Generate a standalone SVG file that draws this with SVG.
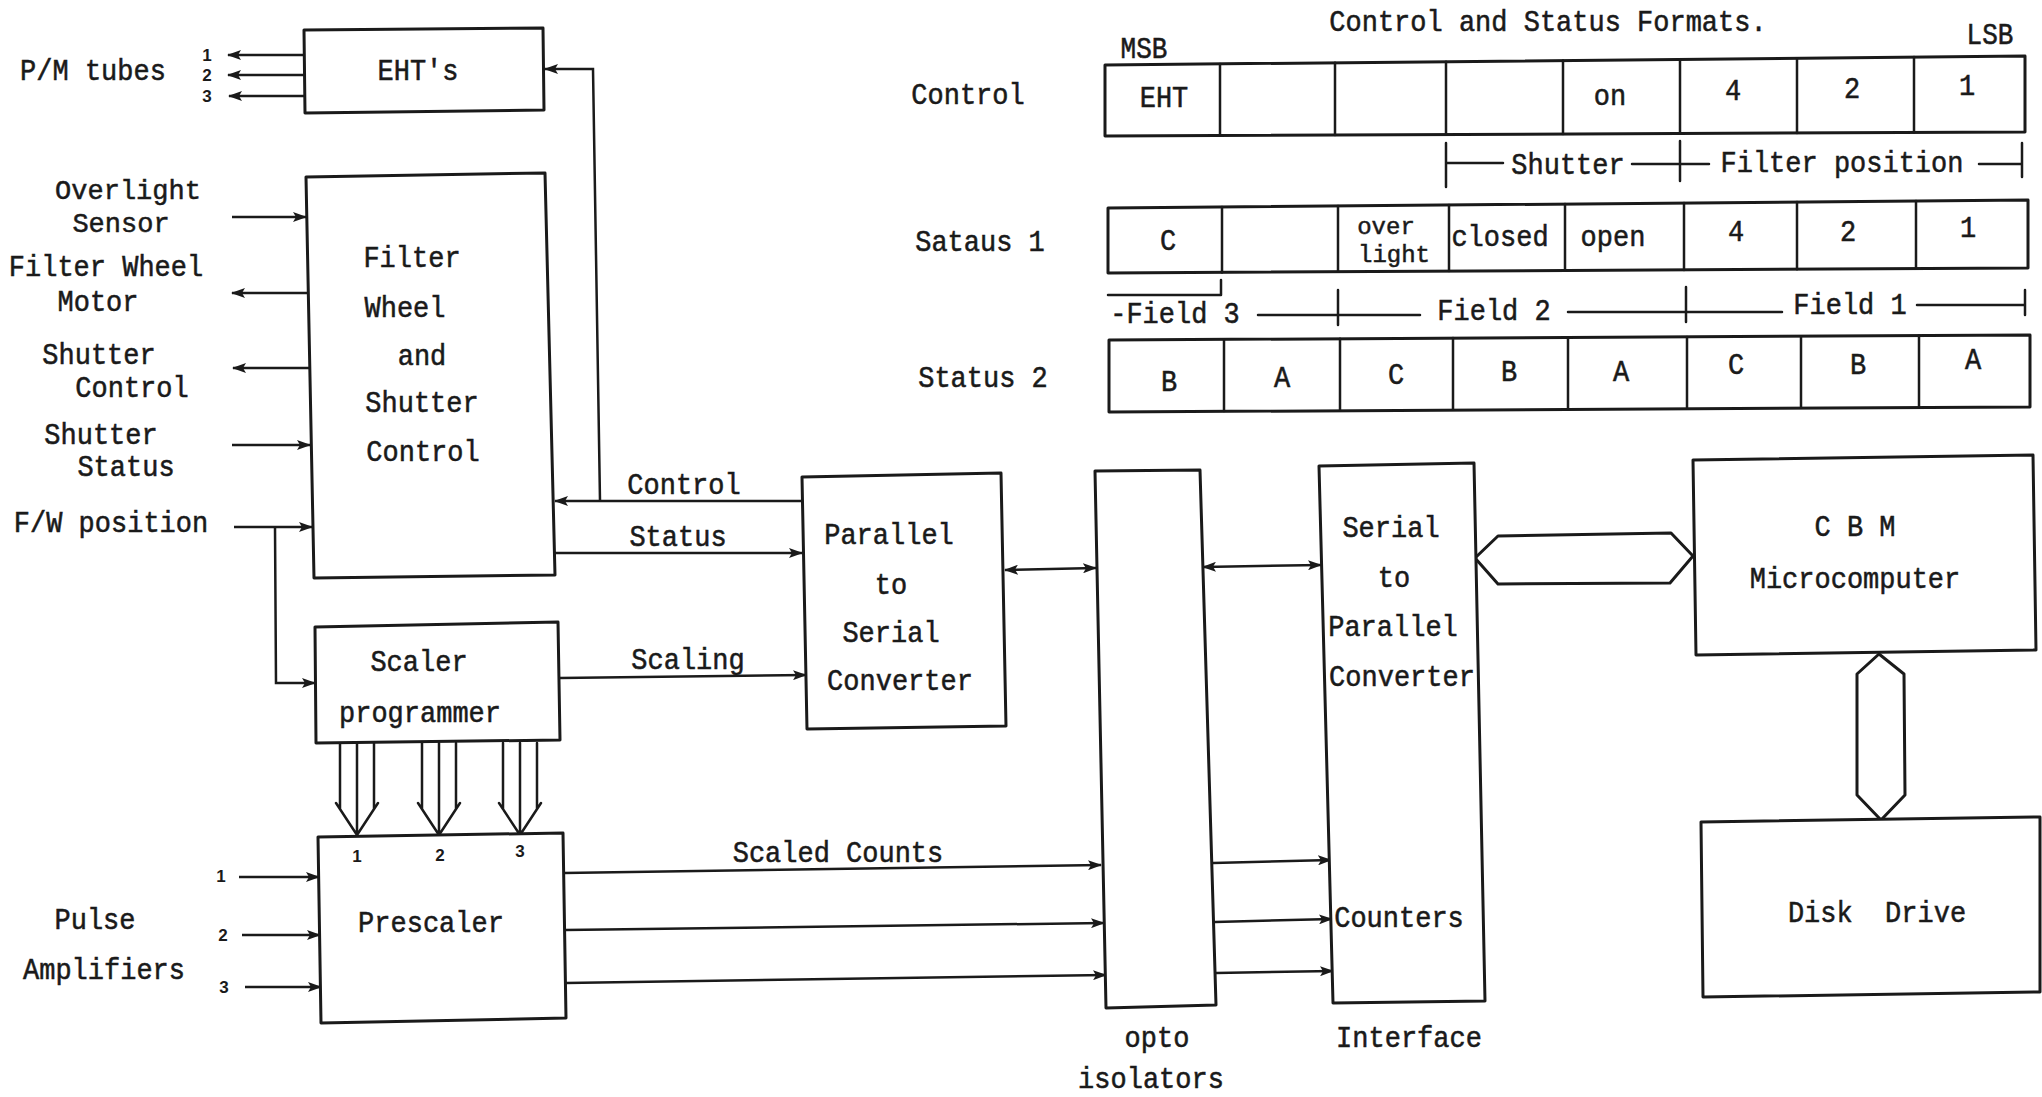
<svg xmlns="http://www.w3.org/2000/svg" width="2042" height="1097" viewBox="0 0 2042 1097">
<style>
.box{fill:#fff;stroke:#1a1a1a;stroke-width:3;stroke-linejoin:round}
.ln{fill:none;stroke:#1a1a1a;stroke-width:2.5;stroke-linecap:round;stroke-linejoin:round}
.arr{fill:none;stroke:#1a1a1a;stroke-width:2.5;marker-end:url(#ah)}
.bi{fill:none;stroke:#1a1a1a;stroke-width:2.5;marker-end:url(#ah);marker-start:url(#ah)}
.t{font-family:"Liberation Mono","Courier New",monospace;font-size:27px;fill:#1a1a1a;stroke:#1a1a1a;stroke-width:0.5;text-anchor:middle;white-space:pre;transform-box:fill-box;transform-origin:50% 50%;transform:scaleY(1.12)}
.ns{transform:none}
.sm{font-size:24px}
.s{font-family:"Liberation Sans",Arial,sans-serif;font-size:17px;font-weight:bold;fill:#1a1a1a;text-anchor:middle}
.m{font-size:26px}
</style>
<defs>
<marker id="ah" viewBox="0 0 14 10" refX="13" refY="5" markerWidth="14" markerHeight="10" markerUnits="userSpaceOnUse" orient="auto-start-reverse">
<path d="M0,0 L14,5 L0,10 L3,5 z" fill="#1a1a1a"/>
</marker>
</defs>
<rect width="2042" height="1097" fill="#fff"/>

<g id="connectors">
<!-- EHT outputs -->
<line class="arr" x1="304" y1="55" x2="228" y2="55"/>
<line class="arr" x1="304" y1="75" x2="228" y2="75"/>
<line class="arr" x1="305" y1="96" x2="229" y2="96"/>
<!-- Control to FW and EHT -->
<line class="arr" x1="802" y1="501" x2="555" y2="501"/>
<polyline class="arr" points="600,501 593,69 545,69"/>
<!-- Status / Scaling -->
<line class="arr" x1="555" y1="553" x2="802" y2="553"/>
<line class="arr" x1="560" y1="678" x2="806" y2="675"/>
<!-- left side signals -->
<line class="arr" x1="232" y1="217" x2="306" y2="217"/>
<line class="arr" x1="307" y1="293" x2="232" y2="293"/>
<line class="arr" x1="309" y1="368" x2="233" y2="368"/>
<line class="arr" x1="232" y1="445" x2="310" y2="445"/>
<line class="arr" x1="234" y1="527" x2="312" y2="527"/>
<polyline class="arr" points="275,527 276,683 315,683"/>
<!-- Prescaler inputs -->
<line class="arr" x1="239" y1="877" x2="319" y2="877"/>
<line class="arr" x1="242" y1="935" x2="320" y2="935"/>
<line class="arr" x1="245" y1="987" x2="321" y2="987"/>
<!-- Prescaler outputs -->
<line class="arr" x1="564" y1="873" x2="1101" y2="865"/>
<line class="arr" x1="565" y1="930" x2="1104" y2="923"/>
<line class="arr" x1="566" y1="983" x2="1106" y2="975"/>
<!-- opto to counters -->
<line class="arr" x1="1213" y1="863" x2="1331" y2="860"/>
<line class="arr" x1="1215" y1="922" x2="1332" y2="919"/>
<line class="arr" x1="1216" y1="973" x2="1333" y2="971"/>
<!-- bidirectional -->
<line class="bi" x1="1005" y1="570" x2="1096" y2="568"/>
<line class="bi" x1="1203" y1="567" x2="1321" y2="565"/>
<!-- scaler to prescaler buses -->
<path class="ln" d="M340,743 V809 M357,743 V835 M374,743 V809 M336,803 L357,835 L378,803"/>
<path class="ln" d="M422,743 V809 M439,743 V835 M456,743 V809 M418,803 L439,835 L460,803"/>
<path class="ln" d="M503,743 V809 M520,743 V835 M537,743 V809 M499,803 L520,835 L541,803"/>
<!-- wide buses -->
<polygon class="box" points="1475,558 1498,536 1671,533 1693,556 1670,583 1498,584"/>
<polygon class="box" points="1879,654 1904,674 1905,795 1881,820 1857,795 1857,674"/>
</g>

<g id="eht">
<polygon class="box" points="304,30 543,28 544,110 305,113"/>
<text class="t" x="418" y="79">EHT's</text>
</g>
<g id="pm-tubes">
<text class="t" x="93" y="79">P/M tubes</text>
<text class="s" x="207" y="61">1</text>
<text class="s" x="207" y="81">2</text>
<text class="s" x="207" y="102">3</text>
</g>
<g id="fw-control">
<polygon class="box" points="306,177 545,173 555,575 314,578"/>
<text class="t" x="412" y="266">Filter</text>
<text class="t" x="405" y="316">Wheel</text>
<text class="t" x="422" y="364">and</text>
<text class="t" x="422" y="411">Shutter</text>
<text class="t" x="423" y="460">Control</text>
</g>
<g id="left-labels">
<text class="t ns" x="128" y="199">Overlight</text>
<text class="t ns" x="121" y="232">Sensor</text>
<text class="t" x="106" y="275">Filter Wheel</text>
<text class="t" x="98" y="310">Motor</text>
<text class="t" x="99" y="363">Shutter</text>
<text class="t" x="132" y="396">Control</text>
<text class="t" x="101" y="443">Shutter</text>
<text class="t" x="126" y="475">Status</text>
<text class="t" x="111" y="531">F/W position</text>
</g>
<g id="line-labels">
<text class="t" x="684" y="493">Control</text>
<text class="t" x="678" y="545">Status</text>
<text class="t" x="688" y="668">Scaling</text>
<text class="t" x="838" y="861">Scaled Counts</text>
</g>
<g id="scaler">
<polygon class="box" points="315,627 558,622 560,740 316,743"/>
<text class="t" x="419" y="670">Scaler</text>
<text class="t" x="420" y="721">programmer</text>
</g>
<g id="prescaler">
<polygon class="box" points="318,837 563,833 566,1018 321,1023"/>
<text class="t" x="431" y="931">Prescaler</text>
<text class="s" x="357" y="862">1</text>
<text class="s" x="440" y="861">2</text>
<text class="s" x="520" y="857">3</text>
</g>
<g id="pulse-amps">
<text class="t" x="95" y="928">Pulse</text>
<text class="t" x="104" y="978">Amplifiers</text>
<text class="s" x="221" y="882">1</text>
<text class="s" x="223" y="941">2</text>
<text class="s" x="224" y="993">3</text>
</g>
<g id="p2s">
<polygon class="box" points="802,477 1001,473 1006,726 807,729"/>
<text class="t" x="889" y="543">Parallel</text>
<text class="t" x="891" y="593">to</text>
<text class="t" x="891" y="641">Serial</text>
<text class="t" x="900" y="689">Converter</text>
</g>
<g id="opto">
<polygon class="box" points="1095,471 1200,470 1216,1005 1106,1008"/>
<text class="t" x="1157" y="1046">opto</text>
<text class="t" x="1151" y="1087">isolators</text>
</g>
<g id="s2p">
<polygon class="box" points="1319,466 1474,463 1485,1001 1333,1003"/>
<text class="t" x="1391" y="536">Serial</text>
<text class="t" x="1394" y="586">to</text>
<text class="t" x="1393" y="635">Parallel</text>
<text class="t" x="1402" y="685">Converter</text>
<text class="t" x="1399" y="926">Counters</text>
<text class="t" x="1409" y="1046">Interface</text>
</g>
<g id="cbm">
<polygon class="box" points="1693,460 2033,455 2036,650 1696,655"/>
<text class="t" x="1855" y="535">C B M</text>
<text class="t" x="1855" y="587">Microcomputer</text>
</g>
<g id="disk">
<polygon class="box" points="1701,822 2040,817 2040,992 1703,997"/>
<text class="t" x="1877" y="921">Disk  Drive</text>
</g>

<g id="formats">
<text class="t" x="1548" y="30">Control and Status Formats.</text>
<text class="t m" x="1144" y="57">MSB</text>
<text class="t m" x="1990" y="43">LSB</text>
<text class="t" x="968" y="103">Control</text>
<text class="t" x="980" y="250">Sataus 1</text>
<text class="t" x="983" y="386">Status 2</text>
<!-- control row -->
<polygon class="box" points="1105,65 2025,56 2025,132 1105,136"/>
<path class="ln" d="M1220,64 V135.5 M1335,62.7 V135 M1446,61.7 V134.5 M1563,60.5 V134 M1680,59.4 V133.5 M1797,58.2 V133 M1914,57.1 V132.5"/>
<text class="t" x="1164" y="106">EHT</text>
<text class="t" x="1610" y="104">on</text>
<text class="t" x="1733" y="99">4</text>
<text class="t" x="1852" y="97">2</text>
<text class="t" x="1967" y="94">1</text>
<!-- shutter / filter bracket -->
<path class="ln" d="M1446,143 V187 M1680,141 V181 M2022,143 V177 M1446,163 H1503 M1632,164 H1709 M1979,164 H2022"/>
<text class="t" x="1568" y="173">Shutter</text>
<text class="t" x="1842" y="171">Filter position</text>
<!-- status 1 row -->
<polygon class="box" points="1108,208 2028,200 2028,268 1108,273"/>
<path class="ln" d="M1222,207 V272.4 M1338,206 V271.8 M1449,205 V271.1 M1565,204 V270.5 M1684,203 V269.9 M1797,202 V269.3 M1916,201 V268.6"/>
<text class="t" x="1168" y="249">C</text>
<text class="t ns sm" x="1386" y="234">over</text>
<text class="t ns sm" x="1394" y="262">light</text>
<text class="t" x="1500" y="245">closed</text>
<text class="t" x="1613" y="245">open</text>
<text class="t" x="1736" y="240">4</text>
<text class="t" x="1848" y="240">2</text>
<text class="t" x="1968" y="236">1</text>
<!-- field bracket -->
<path class="ln" d="M1108,295 H1221 M1221,280 V295 M1258,315 H1420 M1338,290 V325 M1568,312 H1782 M1686,287 V322 M1917,305 H2025 M2025,290 V315"/>
<text class="t" x="1175" y="322">-Field 3</text>
<text class="t" x="1494" y="319">Field 2</text>
<text class="t" x="1850" y="313">Field 1</text>
<!-- status 2 row -->
<polygon class="box" points="1109,340 2030,335 2030,407 1109,412"/>
<path class="ln" d="M1224,339.4 V411 M1340,338.7 V410.1 M1453,338.1 V409.3 M1568,337.5 V408.5 M1687,336.9 V407.6 M1801,336.2 V406.8 M1919,335.6 V406"/>
<text class="t" x="1169" y="390">B</text>
<text class="t" x="1282" y="386">A</text>
<text class="t" x="1396" y="383">C</text>
<text class="t" x="1509" y="380">B</text>
<text class="t" x="1621" y="380">A</text>
<text class="t" x="1736" y="373">C</text>
<text class="t" x="1858" y="373">B</text>
<text class="t" x="1973" y="368">A</text>
</g>
</svg>
